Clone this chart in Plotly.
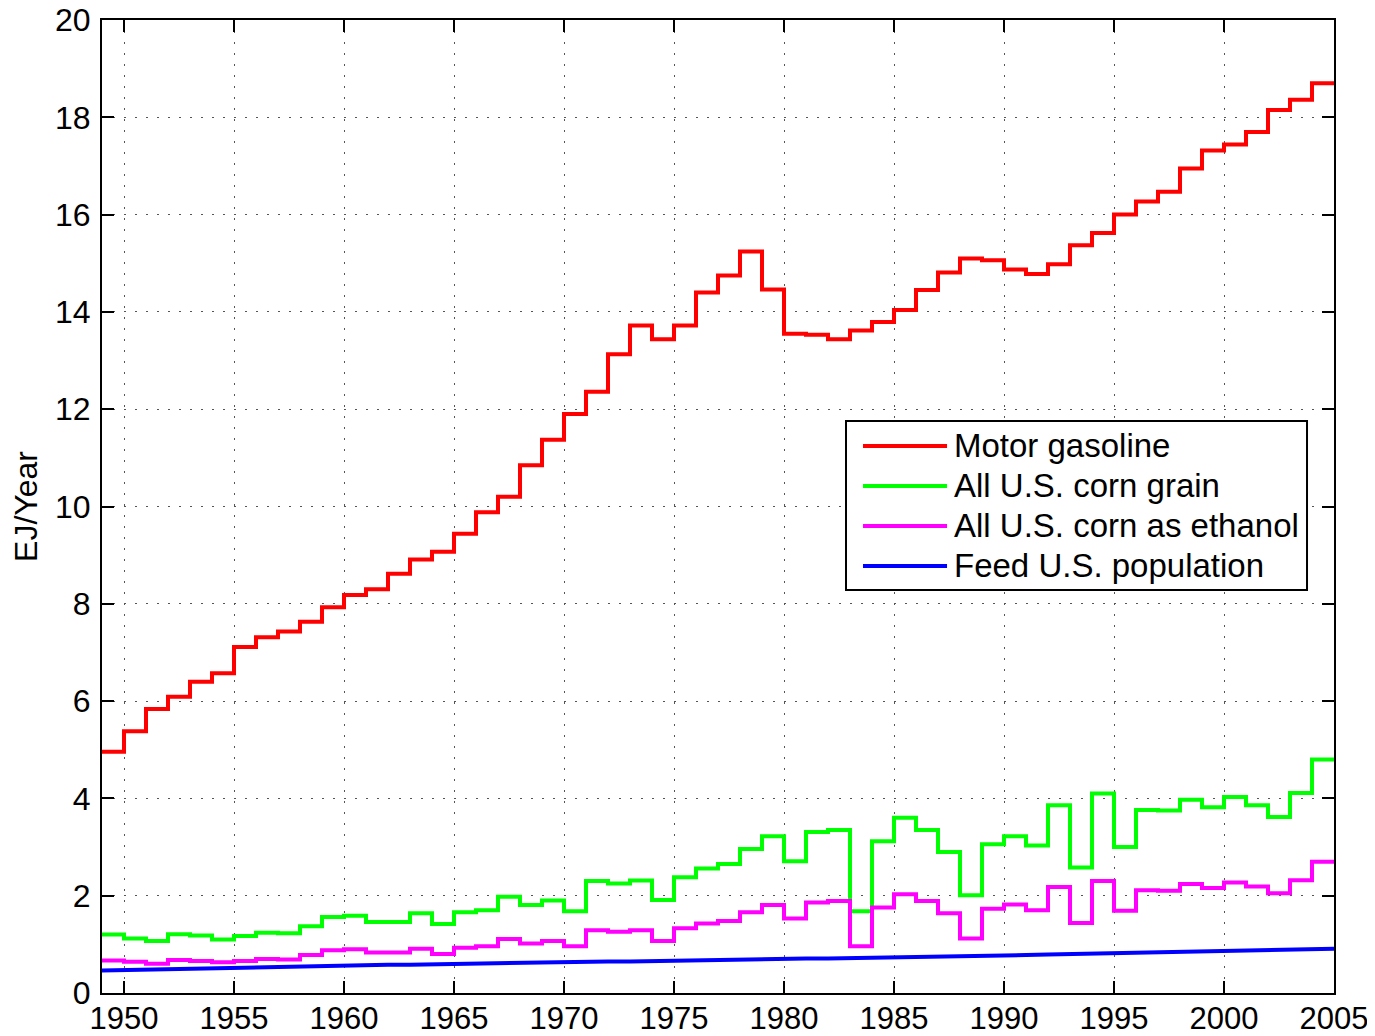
import plotly.graph_objects as go

# years each step starts (1949..2004); step lines are held until 2005
years = list(range(1949, 2005))

motor_gasoline = [
    4.96, 5.38, 5.84, 6.09, 6.40, 6.57, 7.11, 7.31, 7.43, 7.63,
    7.93, 8.18, 8.30, 8.62, 8.91, 9.07, 9.44, 9.88, 10.20, 10.85,
    11.37, 11.90, 12.36, 13.13, 13.72, 13.44, 13.72, 14.40, 14.75, 15.24,
    14.46, 13.55, 13.53, 13.44, 13.62, 13.79, 14.04, 14.45, 14.81, 15.10,
    15.06, 14.87, 14.78, 14.98, 15.37, 15.62, 16.00, 16.27, 16.47, 16.95,
    17.32, 17.44, 17.70, 18.15, 18.36, 18.70,
]

corn_grain = [
    1.20, 1.12, 1.07, 1.21, 1.18, 1.10, 1.17, 1.24, 1.23, 1.37,
    1.56, 1.59, 1.46, 1.46, 1.64, 1.42, 1.66, 1.70, 1.98, 1.81,
    1.90, 1.68, 2.30, 2.25, 2.31, 1.91, 2.38, 2.56, 2.65, 2.96,
    3.22, 2.71, 3.31, 3.35, 1.68, 3.12, 3.60, 3.35, 2.90, 2.01,
    3.06, 3.22, 3.03, 3.86, 2.58, 4.10, 3.00, 3.76, 3.75, 3.97,
    3.82, 4.03, 3.86, 3.62, 4.11, 4.80,
]

corn_ethanol = [
    0.67, 0.64, 0.60, 0.68, 0.66, 0.63, 0.66, 0.70, 0.69, 0.78,
    0.88, 0.90, 0.83, 0.83, 0.91, 0.80, 0.93, 0.96, 1.11, 1.02,
    1.07, 0.96, 1.29, 1.26, 1.29, 1.07, 1.33, 1.43, 1.48, 1.66,
    1.81, 1.53, 1.86, 1.89, 0.96, 1.76, 2.03, 1.89, 1.64, 1.12,
    1.73, 1.82, 1.70, 2.18, 1.44, 2.30, 1.69, 2.11, 2.10, 2.24,
    2.16, 2.27, 2.19, 2.05, 2.32, 2.70,
]

# population food energy, one point per year 1949..2005
pop_years = list(range(1949, 2006))
feed_population = [
    0.46, 0.47, 0.48, 0.49, 0.49, 0.50, 0.51, 0.52, 0.53, 0.54,
    0.55, 0.56, 0.57, 0.58, 0.58, 0.59, 0.60, 0.61, 0.61, 0.62,
    0.62, 0.63, 0.64, 0.65, 0.65, 0.66, 0.67, 0.67, 0.68, 0.69,
    0.69, 0.70, 0.71, 0.71, 0.72, 0.73, 0.73, 0.74, 0.75, 0.75,
    0.76, 0.77, 0.78, 0.79, 0.80, 0.81, 0.82, 0.83, 0.84, 0.85,
    0.86, 0.87, 0.88, 0.89, 0.89, 0.90, 0.91,
]

x_ticks = list(range(1950, 2006, 5))
y_ticks = list(range(0, 21, 2))

FONT = "Liberation Sans, Arial, Helvetica, sans-serif"
series = [
    ("Motor gasoline", motor_gasoline, "#ff0000"),
    ("All U.S. corn grain", corn_grain, "#00ff00"),
    ("All U.S. corn as ethanol", corn_ethanol, "#ff00ff"),
]

step_x = years + [years[-1] + 1]

fig = go.Figure()
for name, vals, col in series:
    fig.add_trace(go.Scatter(
        x=step_x, y=vals + [vals[-1]], mode="lines", name=name,
        line=dict(color=col, width=4, shape="hv"),
    ))
fig.add_trace(go.Scatter(
    x=pop_years, y=feed_population, mode="lines", name="Feed U.S. population",
    line=dict(color="#0000ff", width=4),
))

# MATLAB-style boxed legend drawn in paper coordinates
legend_names = [s[0] for s in series] + ["Feed U.S. population"]
legend_cols = [s[2] for s in series] + ["#0000ff"]
lx0, lx1, ly0, ly1 = 0.6039, 0.9781, 0.4142, 0.5879
item_top, item_step = 0.5622, 0.0411
shapes = [dict(type="rect", xref="paper", yref="paper", x0=lx0, x1=lx1, y0=ly0, y1=ly1,
               line=dict(color="black", width=2), fillcolor="white", layer="above")]
annotations = []
for i, (nm, col) in enumerate(zip(legend_names, legend_cols)):
    yy = item_top - i * item_step
    shapes.append(dict(type="line", xref="paper", yref="paper", x0=0.6177, x1=0.6859,
                       y0=yy, y1=yy, line=dict(color=col, width=4), layer="above"))
    annotations.append(dict(xref="paper", yref="paper", x=0.6900, y=yy, text=nm,
                            showarrow=False, xanchor="left", yanchor="middle",
                            font=dict(size=33, color="black", family=FONT)))

# page body adds an 8px offset, margins compensate for it
fig.update_layout(
    width=1375, height=1036,
    margin=dict(l=94, r=49, t=12, b=51),
    paper_bgcolor="white", plot_bgcolor="white",
    font=dict(family=FONT, size=32, color="black"),
    showlegend=False,
    shapes=shapes, annotations=annotations,
)
fig.update_xaxes(
    range=[1949, 2005], tickvals=x_ticks, ticks="inside", ticklen=12, tickwidth=1.5,
    tickcolor="black", showline=True, linecolor="black", linewidth=2, mirror="ticks",
    showgrid=True, gridcolor="#555555", gridwidth=1, griddash="2px,9px",
    zeroline=False, tickfont=dict(size=31), automargin=False,
    ticklabeloverflow="allow", ticklabelstandoff=-3,
)
fig.update_yaxes(
    range=[0, 20], tickvals=y_ticks, ticks="inside", ticklen=12, tickwidth=1.5,
    tickcolor="black", showline=True, linecolor="black", linewidth=2, mirror="ticks",
    showgrid=True, gridcolor="#555555", gridwidth=1, griddash="2px,9px",
    zeroline=False, tickfont=dict(size=32), automargin=False, ticklabelstandoff=3,
    ticklabeloverflow="allow",
    title=dict(text="EJ/Year", font=dict(size=32), standoff=20),
)

fig.write_html("out.html")
